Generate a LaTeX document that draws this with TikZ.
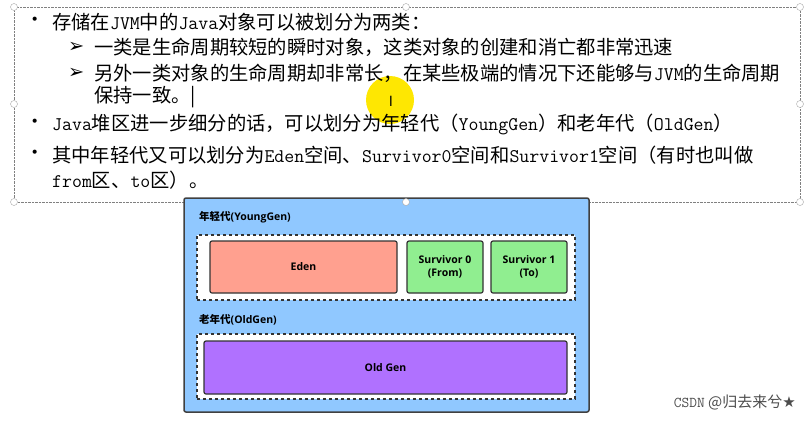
\documentclass[tikz,border=0pt]{standalone}
\usepackage{fontspec}
\setmainfont{Noto Sans CJK SC}
\newfontfamily\cjk{Noto Sans CJK SC}
\newfontfamily\sym{DejaVu Sans}
\newfontfamily\boxfont{Open Sans}
\usetikzlibrary{arrows}
\newcommand{\lt}[1]{{\ttfamily #1}}
\definecolor{heapblue}{HTML}{90C8FF}
\definecolor{edenred}{HTML}{FFA08F}
\definecolor{survgreen}{HTML}{90EE90}
\definecolor{oldpurple}{HTML}{B071FF}

\begin{document}
\begin{tikzpicture}[x = 1pt, y = -1pt, every node/.style = {inner sep = 0pt},
	line/.style = {anchor = west, font = \fontsize{19.3}{20}\selectfont},
	handle/.style = {circle, draw = gray!70, fill = white, minimum size = 7pt},
	space/.style = {draw = black!80, line width = 1.2pt, rounded corners = 2pt, font = \boxfont\bfseries\fontsize{10.5}{13}\selectfont, align = center},
	genbox/.style = {draw = black!80, line width = 1.5pt, dashed, fill = white},
	genlabel/.style = {anchor = west, font = \boxfont\bfseries\fontsize{10.5}{12}\selectfont}]

	\useasboundingbox (0, 0) rectangle (808, 421);

	% text box
	\draw [densely dotted, gray] (14, 7) rectangle (800, 202);
	\fill [yellow!90!orange] (390, 100) circle (24);

	\node (B1) at (25, 22) [line] {•};
	\node (T1) at (52, 22) [line] {存储在\lt{JVM}中的\lt{Java}对象可以被划分为两类：};
	\node (A1) at (68, 47) [line] {\sym ➢};
	\node (T2) at (94, 47) [line] {一类是生命周期较短的瞬时对象，这类对象的创建和消亡都非常迅速};
	\node (A2) at (68, 73) [line] {\sym ➢};
	\node (T3) at (94, 73) [line] {另外一类对象的生命周期却非常长，在某些极端的情况下还能够与\lt{JVM}的生命周期};
	\node (T4) at (94, 97) [line] {保持一致。|};
	\node (B2) at (25, 124) [line] {•};
	\node (T5) at (52, 124) [line] {\lt{Java}堆区进一步细分的话，可以划分为年轻代（\lt{YoungGen}）和老年代（\lt{OldGen}）};
	\node (B3) at (25, 155) [line] {•};
	\node (T6) at (52, 155) [line] {其中年轻代又可以划分为\lt{Eden}空间、\lt{Survivor0}空间和\lt{Survivor1}空间（有时也叫做};
	\node (T7) at (52, 180) [line] {\lt{from}区、\lt{to}区）。};
	\node (I) at (391, 101) [font = \fontsize{14}{14}\selectfont] {I};

	% heap
	\node (heap) at (386.5, 305) [draw = black!75, line width = 1.5pt, fill = heapblue, rounded corners = 2pt, minimum width = 405pt, minimum height = 214pt] {};
	\node (YL) at (199, 217) [genlabel] {{\cjk 年轻代}(YoungGen)};
	\node (young) at (386, 267.5) [genbox, minimum width = 378pt, minimum height = 65pt] {};
	\node (eden) at (303.5, 267) [space, fill = edenred, minimum width = 187pt, minimum height = 52pt] {Eden};
	\node (s0) at (445, 267) [space, fill = survgreen, minimum width = 76pt, minimum height = 52pt] {Survivor 0\\(From)};
	\node (s1) at (529, 267) [space, fill = survgreen, minimum width = 76pt, minimum height = 52pt] {Survivor 1\\(To)};
	\node (OL) at (199, 320) [genlabel] {{\cjk 老年代}(OldGen)};
	\node (oldbox) at (386, 366.5) [genbox, minimum width = 378pt, minimum height = 65pt] {};
	\node (old) at (385.5, 367.5) [space, fill = oldpurple, minimum width = 363pt, minimum height = 53pt] {Old Gen};

	% selection handles
	\foreach \hx/\hy in {14/7, 406/7, 800/7, 14/104, 800/104, 14/202, 406/202, 800/202}
		\node at (\hx, \hy) [handle] {};

	\node (mark) at (796, 402) [anchor = east, text = black!70, font = \fontsize{15}{17}\selectfont] {\lt{CSDN} @归去来兮{\sym ★}};
\end{tikzpicture}
\end{document}
